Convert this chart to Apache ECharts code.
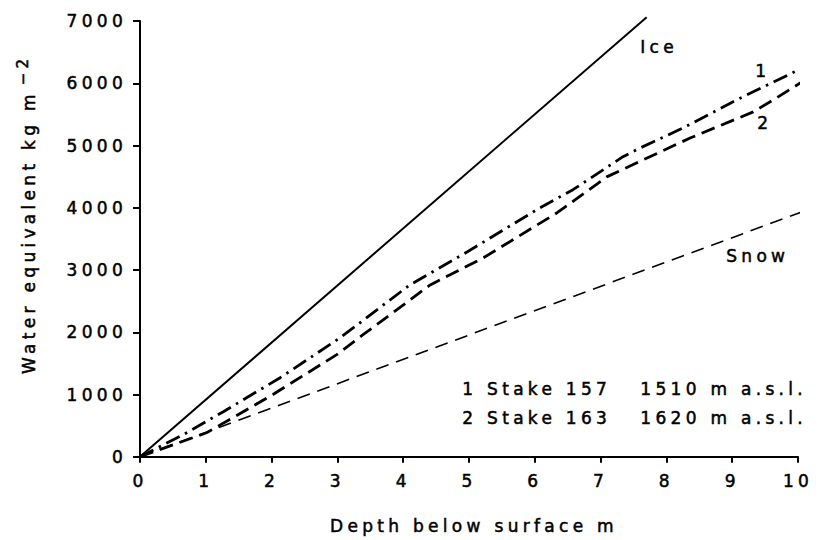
<!DOCTYPE html>
<html>
<head>
<meta charset="utf-8">
<script src="https://cdn.jsdelivr.net/npm/echarts@6/dist/echarts.min.js"></script>
<style>
    html, body { margin: 0; padding: 0; background: #fff; }
    #main { width: 821px; height: 540px; }
    /* the original lettering is widely spaced */
    #main text { letter-spacing: 4.3px; white-space: pre; }
</style>
</head>
<body>
<div id="main"></div>
<script>
// depth below surface (m) and water equivalent (kg m-2)
var iceDepth = [0, 7.7];
var iceWE = [0, 7061];

var snowDepth = [0, 10.1];
var snowWE = [0, 3950];

var stake157Depth = [0, 0.65, 1.26, 2.13, 3.04, 3.34, 4.1, 4.97, 6.08, 6.58, 7.34, 7.6, 8.25, 9.12, 10.0];
var stake157WE = [0, 350, 720, 1270, 1910, 2150, 2760, 3290, 4000, 4290, 4820, 4960, 5280, 5760, 6210];

var stake163Depth = [0, 1.02, 2.02, 2.99, 3.39, 4.41, 5.21, 6.34, 7.1, 8.36, 9.32, 9.62, 10.15];
var stake163WE = [0, 390, 1000, 1640, 1960, 2760, 3190, 3920, 4500, 5120, 5540, 5730, 6080];

var legendLines = ['1 Stake 157   1510 m a.s.l.', '2 Stake 163   1620 m a.s.l.'];

function pairs(xs, ys) {
    var out = [];
    for (var i = 0; i < xs.length; i++) {
        out.push([xs[i], ys[i]]);
    }
    return out;
}

var font = 'DejaVu Sans';
var ink = '#000';
// thin outline to get the heavier look of the printed lettering
var thick = { textBorderColor: ink, textBorderWidth: 0.5 };

function lineSeries(name, xs, ys, width, dash) {
    return {
        name: name,
        type: 'line',
        data: pairs(xs, ys),
        showSymbol: false,
        clip: false,
        silent: true,
        lineStyle: { color: '#000', width: width, type: dash, cap: 'butt' }
    };
}

function label(txt, x, y, size) {
    return {
        type: 'text', left: x, top: y,
        style: { text: txt, font: (size || 17) + 'px ' + font, fill: ink, stroke: ink, lineWidth: 0.5 }
    };
}

var myChart = echarts.init(document.getElementById('main'), null, { renderer: 'svg' });

myChart.setOption({
    backgroundColor: '#fff',
    animation: false,
    textStyle: { fontFamily: font, color: ink },
    grid: { left: 140, right: 23, top: 21, bottom: 83 },
    xAxis: {
        type: 'value',
        min: 0,
        max: 10,
        interval: 1,
        name: 'Depth below surface m',
        nameLocation: 'middle',
        nameGap: 61,
        nameTextStyle: Object.assign({ fontFamily: font, fontSize: 17, color: ink, padding: [0, 0, 0, 10] }, thick),
        axisLine: { lineStyle: { color: '#000', width: 2 } },
        axisTick: { inside: false, length: 6, lineStyle: { color: '#000', width: 2 } },
        axisLabel: Object.assign({ margin: 16, fontFamily: font, fontSize: 17, color: ink }, thick),
        splitLine: { show: false }
    },
    yAxis: {
        type: 'value',
        min: 0,
        max: 7000,
        interval: 1000,
        axisLine: { show: true, lineStyle: { color: '#000', width: 2 } },
        axisTick: { show: true, length: 7, lineStyle: { color: '#000', width: 2 } },
        axisLabel: Object.assign({
            margin: 13, fontFamily: font, fontSize: 17, color: ink,
            formatter: function (v) { return String(v); }
        }, thick),
        splitLine: { show: false }
    },
    graphic: [
        {
            type: 'text', x: 29, y: 232, rotation: Math.PI / 2,
            style: { text: 'Water equivalent kg m', font: '17px ' + font, fill: ink, stroke: ink, lineWidth: 0.5,
                     textAlign: 'center', textVerticalAlign: 'middle' }
        },
        {
            type: 'text', x: 23, y: 70, rotation: Math.PI / 2,
            style: { text: '\u22122', font: '15px ' + font, fill: ink, stroke: ink, lineWidth: 0.5,
                     textAlign: 'center', textVerticalAlign: 'middle' }
        },
        label('Ice', 640, 38),
        label('1', 755, 62),
        label('2', 757, 114),
        label('Snow', 726, 247),
        label(legendLines[0], 462, 380),
        label(legendLines[1], 462, 409)
    ],
    series: [
        lineSeries('Ice', iceDepth, iceWE, 2, 'solid'),
        lineSeries('Snow', snowDepth, snowWE, 1.6, [13, 8]),
        lineSeries('Stake 157', stake157Depth, stake157WE, 2.8, [15, 6, 2.5, 6]),
        lineSeries('Stake 163', stake163Depth, stake163WE, 2.8, [14, 7])
    ]
});
</script>
</body>
</html>
